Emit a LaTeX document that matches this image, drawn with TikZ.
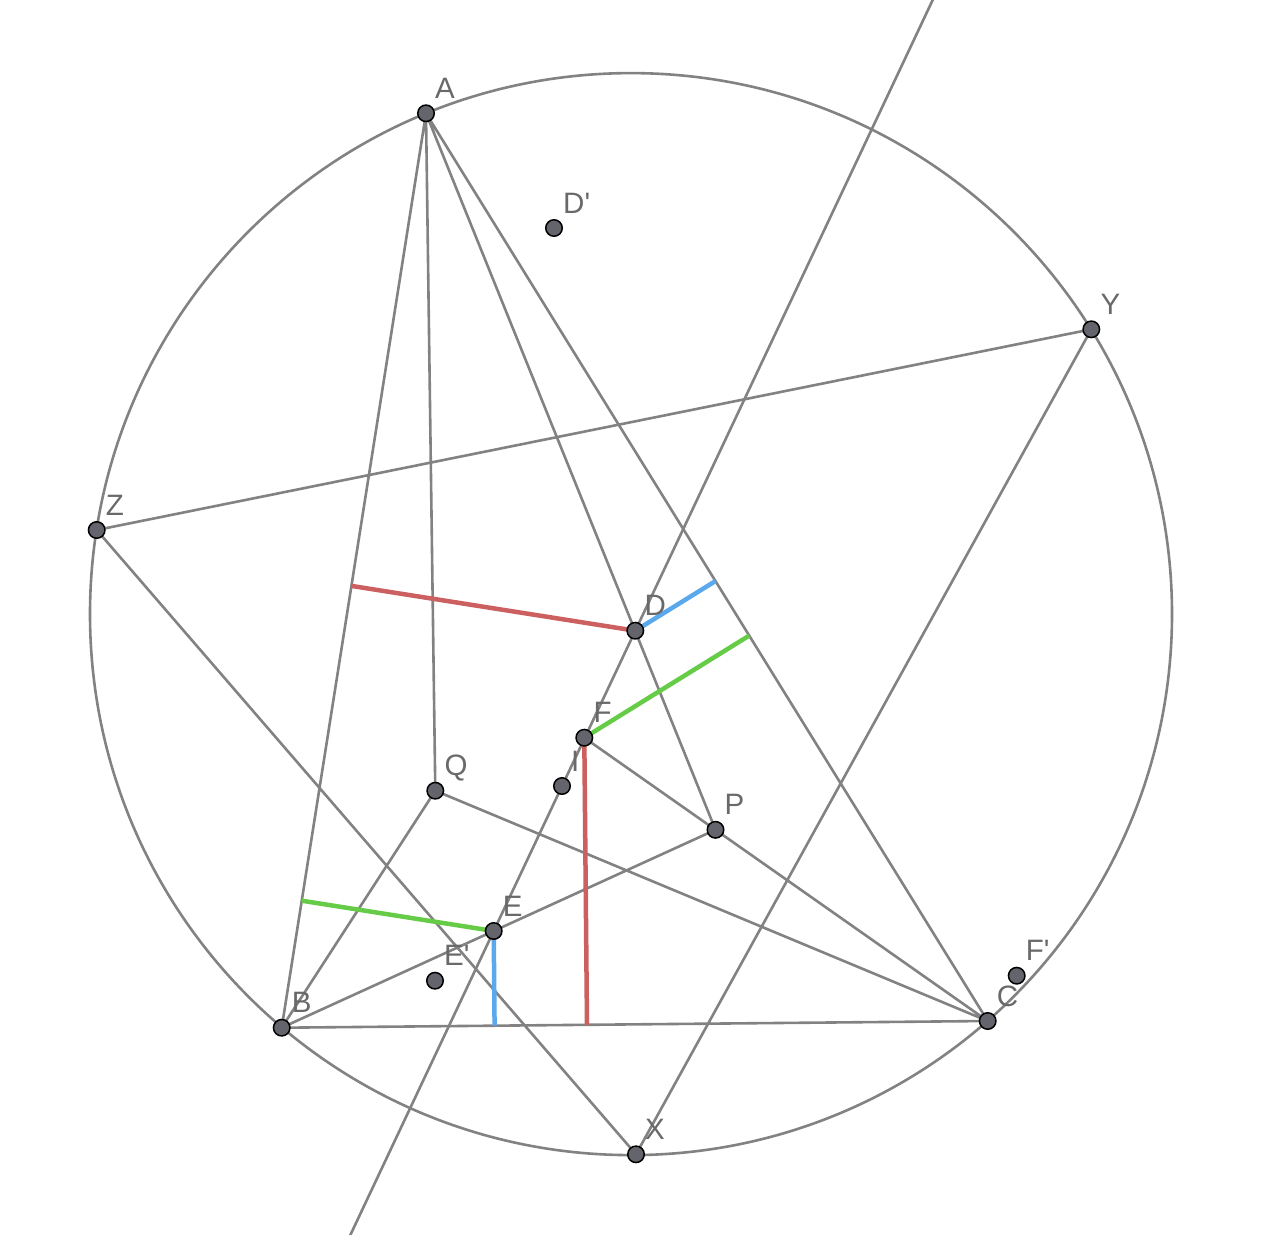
\documentclass[tikz,border=0pt]{standalone}
\usepackage{fontspec}
\newfontfamily\lblfont{Liberation Sans}
\usetikzlibrary{calc}
\definecolor{ln}{RGB}{130,130,130}
\definecolor{ptfill}{RGB}{100,100,108}
\definecolor{lbl}{RGB}{105,105,105}
\definecolor{rd}{RGB}{204,96,96}
\definecolor{bl}{RGB}{92,168,236}
\definecolor{gr}{RGB}{102,204,72}
\begin{document}
\begin{tikzpicture}[x=1pt,y=-1pt,
  gline/.style={draw=ln,line width=2.6pt},
  cline/.style={line width=4.5pt},
  pt/.style={circle,fill=ptfill,draw=black,line width=1.5pt,minimum size=16.5pt,inner sep=0pt},
  lab/.style={text=lbl,font=\lblfont\fontsize{29.5}{30}\selectfont,inner sep=0pt,anchor=base west}]
\useasboundingbox (0,0) rectangle (1278,1235);
\clip (0,0) rectangle (1278,1235);
% points
\coordinate (A) at (426,113.3);
\coordinate (Dp) at (554,228);
\coordinate (Y) at (1091.3,329.3);
\coordinate (Z) at (96.7,530);
\coordinate (D) at (635.3,630.7);
\coordinate (F) at (584.3,737.7);
\coordinate (I) at (562,786);
\coordinate (Q) at (435.3,790.7);
\coordinate (P) at (715.5,829.8);
\coordinate (E) at (493.7,931);
\coordinate (Ep) at (435,980.7);
\coordinate (B) at (281.7,1027.7);
\coordinate (C) at (987.7,1021);
\coordinate (Fp) at (1016.7,975.7);
\coordinate (X) at (636,1154.3);
\coordinate (O) at (631,614.1);
% circle and gray lines
\draw[gline] (O) circle[radius=541];
\draw[gline] (A)--(B) (A)--(Q) (A)--(P) (A)--(C)
  (Y)--(Z) (Y)--(X) (Z)--(X)
  (B)--(C) (B)--(Q) (B)--(P) (Q)--(C) (F)--(C);
\draw[gline] ($(D)!-2.2!(E)$) -- ($(D)!2.1!(E)$);
% coloured perpendiculars
\draw[cline,draw=rd] (D) -- ($(A)!(D)!(B)$);
\draw[cline,draw=rd] (F) -- ($(B)!(F)!(C)$);
\draw[cline,draw=bl] (D) -- ($(A)!(D)!(C)$);
\draw[cline,draw=bl] (E) -- ($(B)!(E)!(C)$);
\draw[cline,draw=gr] (F) -- ($(A)!(F)!(C)$);
\draw[cline,draw=gr] (E) -- ($(A)!(E)!(B)$);
% point markers
\foreach \p in {A,Dp,Y,Z,D,F,I,Q,P,E,Ep,B,C,Fp,X}
  \node[pt] (n\p) at (\p) {};
% labels
\node[lab] (lA) at ($(A)+(9,-15)$) {A};
\node[lab] (lDp) at ($(Dp)+(9,-15)$) {D'};
\node[lab] (lY) at ($(Y)+(9,-15)$) {Y};
\node[lab] (lZ) at ($(Z)+(9,-15)$) {Z};
\node[lab] (lD) at ($(D)+(9,-15)$) {D};
\node[lab] (lF) at ($(F)+(9,-15)$) {F};
\node[lab] (lI) at ($(I)+(9,-15)$) {I};
\node[lab] (lQ) at ($(Q)+(9,-15)$) {Q};
\node[lab] (lP) at ($(P)+(9,-15)$) {P};
\node[lab] (lE) at ($(E)+(9,-15)$) {E};
\node[lab] (lEp) at ($(Ep)+(9,-15)$) {E'};
\node[lab] (lB) at ($(B)+(10,-15)$) {B};
\node[lab] (lC) at ($(C)+(9,-15)$) {C};
\node[lab] (lFp) at ($(Fp)+(9,-15)$) {F'};
\node[lab] (lX) at ($(X)+(9,-15)$) {X};
\end{tikzpicture}
\end{document}
